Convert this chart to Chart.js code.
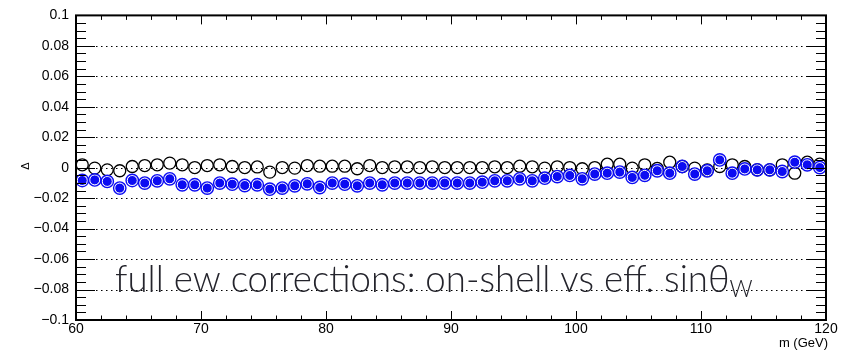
<!DOCTYPE html>
<html>
<head>
<meta charset="utf-8">
<script src="https://cdn.jsdelivr.net/npm/chart.js@4.4.0/dist/chart.umd.min.js"></script>
<style>
  html, body { margin: 0; padding: 0; background: #fff; }
  canvas { display: block; }
</style>
</head>
<body>
<canvas id="grafica" width="848" height="351"></canvas>
<script>
// centros de los bins de masa (GeV)
const masas = [
  60.5, 61.5, 62.5, 63.5, 64.5, 65.5, 66.5, 67.5, 68.5, 69.5,
  70.5, 71.5, 72.5, 73.5, 74.5, 75.5, 76.5, 77.5, 78.5, 79.5,
  80.5, 81.5, 82.5, 83.5, 84.5, 85.5, 86.5, 87.5, 88.5, 89.5,
  90.5, 91.5, 92.5, 93.5, 94.5, 95.5, 96.5, 97.5, 98.5, 99.5,
  100.5, 101.5, 102.5, 103.5, 104.5, 105.5, 106.5, 107.5, 108.5, 109.5,
  110.5, 111.5, 112.5, 113.5, 114.5, 115.5, 116.5, 117.5, 118.5, 119.5
];

// circulos abiertos (negros)
const deltaAbiertos = [
  0.0019, -0.0003, -0.0014, -0.0020, 0.0008, 0.0014, 0.0019, 0.0030, 0.0019, 0.0001,
  0.0014, 0.0019, 0.0008, 0.0001, 0.0005, -0.0029, 0.0001, -0.0003, 0.0014, 0.0010,
  0.0010, 0.0010, -0.0007, 0.0014, 0.0001, 0.0006, 0.0006, 0.0001, 0.0006, 0.0001,
  0.0001, 0.0001, 0.0001, 0.0006, 0.0001, 0.0010, 0.0006, -0.0003, 0.0006, 0.0001,
  -0.0007, 0.0001, 0.0023, 0.0023, -0.0003, 0.0019, -0.0005, 0.0036, 0.0008, -0.0003,
  -0.0014, 0.0008, 0.0019, 0.0008, -0.0014, -0.0014, 0.0019, -0.0036, 0.0036, 0.0023
];

// circulos llenos (azules)
const deltaLlenos = [
  -0.0084, -0.0080, -0.0090, -0.0134, -0.0084, -0.0101, -0.0086, -0.0073, -0.0112, -0.0112,
  -0.0134, -0.0101, -0.0108, -0.0117, -0.0112, -0.0141, -0.0134, -0.0119, -0.0106, -0.0130,
  -0.0101, -0.0108, -0.0119, -0.0101, -0.0112, -0.0101, -0.0101, -0.0101, -0.0101, -0.0101,
  -0.0101, -0.0101, -0.0095, -0.0086, -0.0086, -0.0073, -0.0086, -0.0069, -0.0058, -0.0051,
  -0.0073, -0.0042, -0.0036, -0.0029, -0.0064, -0.0050, -0.0020, -0.0036, 0.0008, -0.0042,
  -0.0020, 0.0051, -0.0036, -0.0008, -0.0014, -0.0014, -0.0025, 0.0036, 0.0019, 0.0001
];

const xTicks = [60, 70, 80, 90, 100, 110, 120];
const yTicks = [-0.1, -0.08, -0.06, -0.04, -0.02, 0, 0.02, 0.04, 0.06, 0.08, 0.1];
const yEtiquetas = ['\u22120.1', '\u22120.08', '\u22120.06', '\u22120.04', '\u22120.02', '0',
                    '0.02', '0.04', '0.06', '0.08', '0.1'];

const titulo = 'full ew corrections: on-shell vs eff. sin\u03b8';
const tituloSub = 'W';

const azul = '#0c0cf2';

function puntos(valores) {
  return masas.map((m, i) => ({ x: m, y: valores[i] }));
}

// marco, ticks estilo ROOT, rejilla punteada y textos
const marcoRoot = {
  id: 'marcoRoot',
  beforeDatasetsDraw(chart) {
    const ctx = chart.ctx;
    const a = chart.chartArea;
    const ys = chart.scales.y;
    ctx.save();
    ctx.strokeStyle = '#000';
    ctx.lineWidth = 1;
    ctx.setLineDash([1.5, 3.5]);
    yTicks.forEach(v => {
      if (Math.abs(v) > 0.099) return;
      const py = Math.round(ys.getPixelForValue(v)) + 0.5;
      ctx.beginPath();
      ctx.moveTo(a.left, py);
      ctx.lineTo(a.right, py);
      ctx.stroke();
    });
    ctx.restore();
  },
  afterDraw(chart) {
    const ctx = chart.ctx;
    const a = chart.chartArea;
    const xs = chart.scales.x, ys = chart.scales.y;
    ctx.save();
    ctx.strokeStyle = '#000';

    // ticks eje y (cada 0.005, mayores cada 0.02)
    ctx.lineWidth = 1;
    for (let k = -20; k <= 20; k++) {
      const py = Math.round(ys.getPixelForValue(k * 0.005)) + 0.5;
      const largo = (k % 4 === 0) ? 19 : 10;
      ctx.beginPath();
      ctx.moveTo(a.left, py); ctx.lineTo(a.left + largo, py);
      ctx.moveTo(a.right, py); ctx.lineTo(a.right - largo, py);
      ctx.stroke();
    }
    // ticks eje x (cada 2 GeV, mayores cada 10)
    for (let g = 60; g <= 120; g += 2) {
      const px = Math.round(xs.getPixelForValue(g)) + 0.5;
      const largo = (g % 10 === 0) ? 9 : 4.5;
      ctx.beginPath();
      ctx.moveTo(px, a.bottom); ctx.lineTo(px, a.bottom - largo);
      ctx.moveTo(px, a.top); ctx.lineTo(px, a.top + largo);
      ctx.stroke();
    }

    ctx.lineWidth = 2;
    ctx.strokeRect(a.left, a.top, a.right - a.left, a.bottom - a.top);

    // titulos de los ejes
    ctx.fillStyle = '#000';
    ctx.font = '13px "Liberation Sans", Arial, sans-serif';
    ctx.textAlign = 'right';
    ctx.textBaseline = 'alphabetic';
    ctx.fillText('m (GeV)', a.right + 2, 347);

    ctx.save();
    ctx.translate(26, 166);
    ctx.rotate(-Math.PI / 2);
    ctx.textAlign = 'center';
    ctx.textBaseline = 'middle';
    ctx.font = '11px "Liberation Sans", Arial, sans-serif';
    ctx.fillText('\u0394', 0, 0);
    ctx.restore();

    // leyenda de texto grande
    const fuente = 'Lato, "Open Sans", sans-serif';
    const anchoObjetivo = 638;
    let tam = 30;
    ctx.font = '300 ' + tam + 'px ' + fuente;
    let w1 = ctx.measureText(titulo).width;
    ctx.font = '300 ' + (tam * 0.62) + 'px ' + fuente;
    let w2 = ctx.measureText(tituloSub).width;
    tam = tam * anchoObjetivo / (w1 + w2);
    ctx.fillStyle = '#24242c';
    ctx.textAlign = 'left';
    ctx.font = '300 ' + tam + 'px ' + fuente;
    w1 = ctx.measureText(titulo).width;
    ctx.fillText(titulo, 115, 292);
    ctx.font = '300 ' + (tam * 0.62) + 'px ' + fuente;
    ctx.fillText(tituloSub, 115 + w1, 292 + tam * 0.14);

    ctx.restore();
  }
};

const ctxG = document.getElementById('grafica').getContext('2d');
const grafica = new Chart(ctxG, {
  type: 'scatter',
  data: {
    datasets: [
      {
        // anillo exterior azul
        data: puntos(deltaLlenos),
        pointRadius: 6.2,
        pointHoverRadius: 6.2,
        pointBackgroundColor: 'rgba(0,0,0,0)',
        pointBorderColor: azul,
        pointBorderWidth: 1.4,
        order: 1
      },
      {
        data: puntos(deltaLlenos),
        pointRadius: 5,
        pointHoverRadius: 5,
        pointBackgroundColor: azul,
        pointBorderColor: '#ffffff',
        pointBorderWidth: 1,
        order: 2
      },
      {
        data: puntos(deltaAbiertos),
        pointRadius: 6,
        pointHoverRadius: 6,
        pointBackgroundColor: 'rgba(0,0,0,0)',
        pointBorderColor: '#000',
        pointBorderWidth: 1.3,
        order: 3
      }
    ]
  },
  options: {
    responsive: false,
    devicePixelRatio: 1,
    animation: false,
    events: [],
    layout: { padding: { left: 0, top: 14, right: 22, bottom: 0 } },
    plugins: { legend: { display: false }, tooltip: { enabled: false } },
    scales: {
      x: {
        type: 'linear',
        min: 60,
        max: 120,
        afterBuildTicks: s => { s.ticks = xTicks.map(v => ({ value: v })); },
        afterFit: s => { s.height = 31; },
        grid: { display: false, drawTicks: false },
        border: { display: false },
        ticks: {
          padding: 1,
          autoSkip: false,
          maxRotation: 0,
          color: '#000',
          font: { family: '"Liberation Sans", Arial, sans-serif', size: 14 },
          callback: v => String(v)
        }
      },
      y: {
        type: 'linear',
        min: -0.1,
        max: 0.1,
        afterBuildTicks: s => { s.ticks = yTicks.map(v => ({ value: v })); },
        afterFit: s => { s.width = 76; },
        grid: { display: false, drawTicks: false },
        border: { display: false },
        ticks: {
          padding: 7,
          autoSkip: false,
          color: '#000',
          font: { family: '"Liberation Sans", Arial, sans-serif', size: 14 },
          callback: (v, i) => yEtiquetas[i]
        }
      }
    }
  },
  plugins: [marcoRoot]
});
</script>
</body>
</html>
